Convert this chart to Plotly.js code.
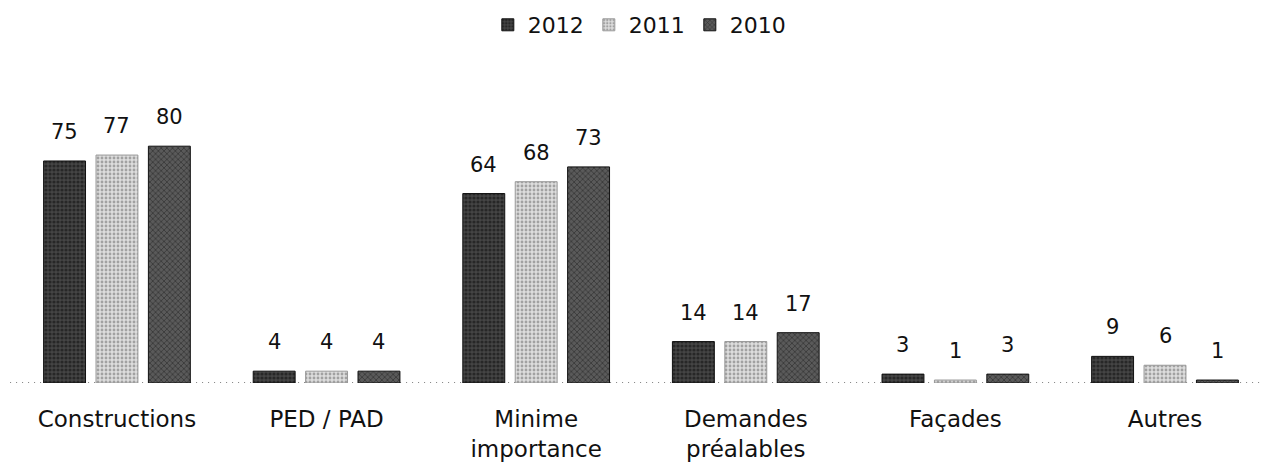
<!DOCTYPE html>
<html>
<head>
<meta charset="utf-8">
<script src="https://cdn.plot.ly/plotly-3.0.1.min.js"></script>
<style>html,body{margin:0;padding:0;background:#fff;}#chart{width:1261px;height:470px;}</style>
</head>
<body>
<div id="chart"></div>
<script>
var categories = ["Constructions", "PED / PAD", "Minime<br>importance", "Demandes<br>préalables", "Façades", "Autres"];
var seriesNames = ["2012", "2011", "2010"];
var values2012 = [75, 4, 64, 14, 3, 9];
var values2011 = [77, 4, 68, 14, 1, 6];
var values2010 = [80, 4, 73, 17, 3, 1];

var fontFam = "'DejaVu Sans', 'Open Sans', sans-serif";
var styles = [
  {bg: "#444444", fg: "#0a0a0a", shape: ".", sol: 0.5, line: "#111111"},
  {bg: "#dddddd", fg: "#666666", shape: ".", sol: 0.4, line: "#999999"},
  {bg: "#5a5a5a", fg: "#111111", shape: "x", sol: 0.35, line: "#111111"}
];
var allValues = [values2012, values2011, values2010];

var traces = seriesNames.map(function(name, i) {
  return {
    type: "bar",
    name: name,
    x: categories,
    y: allValues[i],
    marker: {
      color: styles[i].bg,
      pattern: {shape: styles[i].shape, fgcolor: styles[i].fg, bgcolor: styles[i].bg, solidity: styles[i].sol, size: 4, fillmode: "overlay"},
      line: {color: styles[i].line, width: 1}
    },
    hoverinfo: "skip"
  };
});

var bargap = 0.25, bargroupgap = 0.2;
var slot = (1 - bargap) / seriesNames.length;
var annotations = [];
allValues.forEach(function(vals, i) {
  vals.forEach(function(v, j) {
    annotations.push({
      x: j + (i - (seriesNames.length - 1) / 2) * slot,
      y: v,
      xref: "x", yref: "y",
      text: String(v),
      showarrow: false,
      xanchor: "center",
      yanchor: "bottom",
      yshift: 15,
      font: {family: fontFam, size: 21, color: "#111"}
    });
  });
});

var layout = {
  width: 1261,
  height: 470,
  paper_bgcolor: "#fff",
  plot_bgcolor: "#fff",
  margin: {l: 0, r: 0, t: 100, b: 87},
  barmode: "group",
  bargap: bargap,
  bargroupgap: bargroupgap,
  showlegend: true,
  legend: {
    orientation: "h",
    x: 0.507, xanchor: "center",
    y: 1.265, yanchor: "middle",
    font: {family: fontFam, size: 22, color: "#111"},
    itemwidth: 30,
    traceorder: "normal"
  },
  xaxis: {
    type: "category",
    range: [-0.558, 5.458],
    showgrid: false,
    zeroline: false,
    showline: false,
    ticks: "",
    ticklabelstandoff: 20,
    tickfont: {family: fontFam, size: 23, color: "#111"},
    fixedrange: true
  },
  yaxis: {
    range: [0, 95.6],
    visible: false,
    showgrid: false,
    zeroline: false,
    fixedrange: true
  },
  annotations: annotations,
  shapes: [
    {type: "line", xref: "paper", yref: "y", x0: 0.008, x1: 1, y0: 0, y1: 0,
     line: {color: "#555", width: 1.5, dash: "1px,5px"}, layer: "below"}
  ]
};

Plotly.newPlot("chart", traces, layout, {displayModeBar: false, staticPlot: true});
</script>
</body>
</html>
